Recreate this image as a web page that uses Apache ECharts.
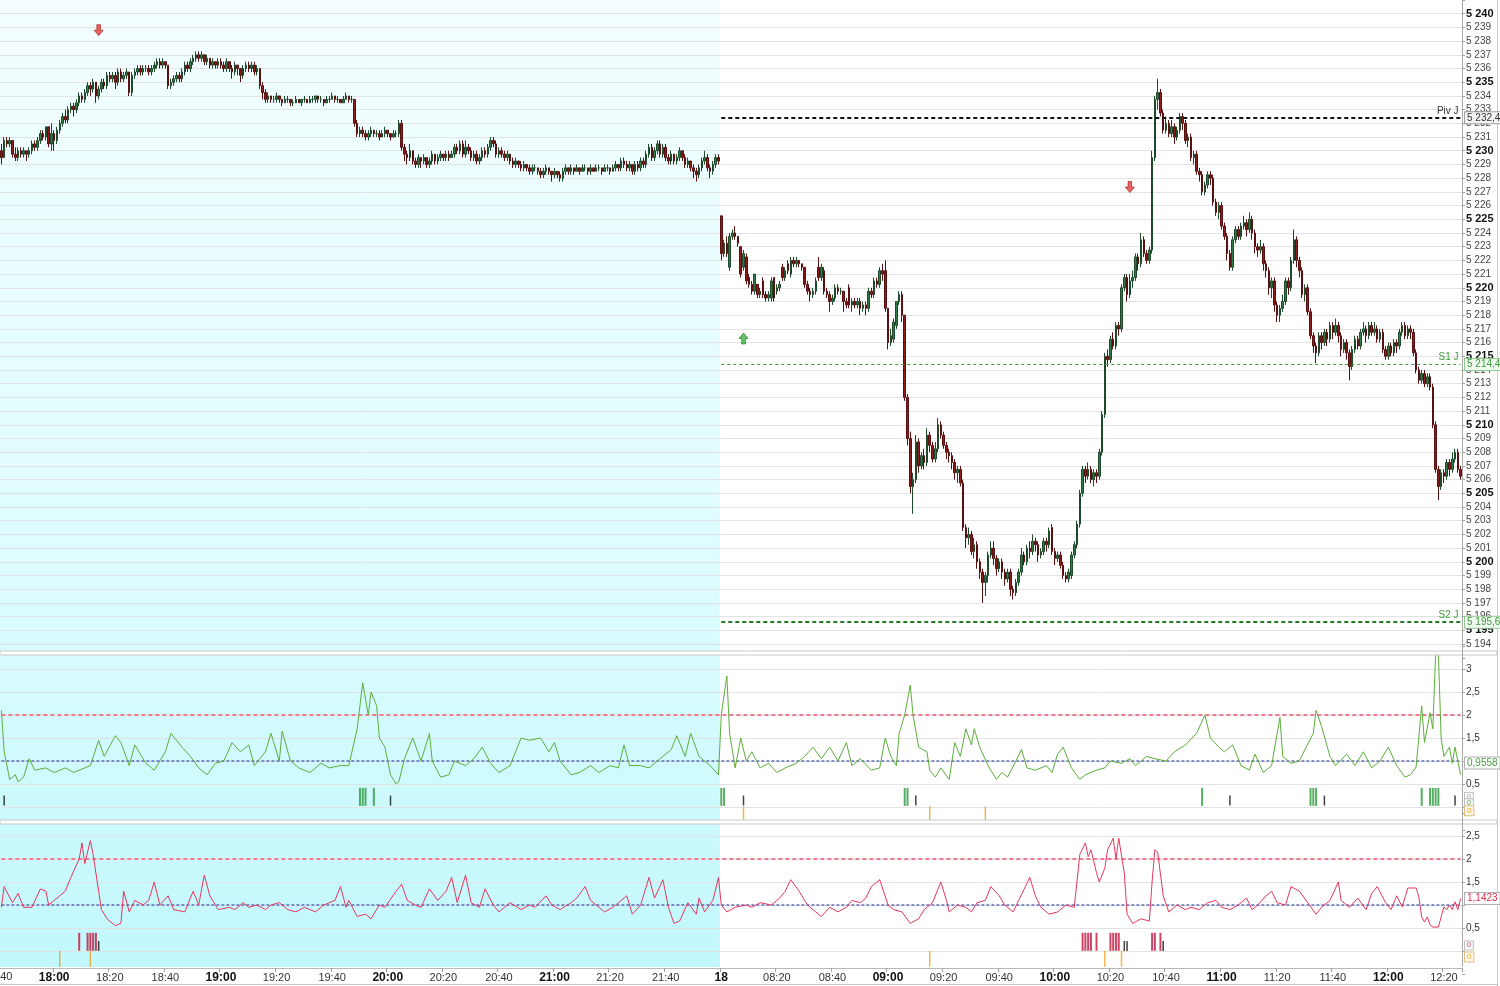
<!DOCTYPE html>
<html><head><meta charset="utf-8">
<script src="https://cdn.jsdelivr.net/npm/echarts/dist/echarts.min.js"></script>
<style>html,body{margin:0;padding:0;background:#fff}#c{width:1500px;height:986px}</style>
</head><body><div id="c"></div>
<script>
// ---------- DATA ----------
// sessions: start time and number of 1-minute bars
const sessionStarts = ['17:41', '08:00'];
const sessionLengths = [259, 267];
const dayLabel = '18';

// 1-minute bars: [open, close, low, high]
const bars = [
[5230,5229.5,5229,5230.5],[5229.5,5230.75,5229.5,5231],[5230.75,5230.5,5230.25,5231],[5230.5,5230.75,5230.25,5231],[5230.75,5229.75,5229.5,5230.75],[5229.75,5229.5,5229.25,5230.25],[5229.5,5230,5229.25,5230.25],[5230,5229.75,5229.5,5230.25],[5229.75,5230,5229.5,5230.25],[5230,5229.75,5229.25,5230],
[5229.75,5230,5229.5,5230.25],[5230,5230.5,5229.75,5230.75],[5230.5,5230.25,5230,5230.75],[5230.25,5230.75,5230,5231],[5230.75,5231.25,5230.5,5231.5],[5231.25,5231,5230.75,5231.5],[5231,5231.75,5230.75,5231.75],[5231.75,5230.5,5230.25,5231.75],[5230.5,5231.25,5230,5232],[5231.25,5230.75,5230,5231.5],
[5230.75,5231.5,5230.5,5231.75],[5231.5,5232,5231.25,5232.25],[5232,5232.5,5231.75,5232.75],[5232.5,5232.25,5232,5233],[5232.25,5233,5232,5233.25],[5233,5233.25,5232.75,5233.5],[5233.25,5233,5232.5,5233.5],[5233,5233.5,5232.75,5233.75],[5233.5,5234,5233.25,5234.25],[5234,5233.75,5233.5,5234.25],
[5233.75,5234.25,5233.5,5234.5],[5234.25,5234.75,5234,5235],[5234.75,5234.5,5234,5235],[5234.5,5235,5234.25,5235.25],[5235,5234,5233.5,5235],[5234,5234.5,5233.75,5234.75],[5234.5,5235,5234.25,5235.25],[5235,5234.75,5234.5,5235.25],[5234.75,5235.5,5234.5,5235.75],[5235.5,5235.25,5235,5235.75],
[5235.25,5235.5,5235,5235.75],[5235.5,5235,5234.5,5235.75],[5235,5235.75,5234.75,5236],[5235.75,5235.25,5235,5236],[5235.25,5235.5,5235,5235.75],[5235.5,5235.75,5235.25,5236],[5235.75,5234.25,5234,5235.75],[5234.25,5235.5,5234,5235.75],[5235.5,5235.75,5235.25,5236],[5235.75,5236,5235.5,5236.25],
[5236,5235.75,5235.5,5236.25],[5235.75,5236,5235.5,5236.25],[5236,5236,5235.75,5236.25],[5236,5235.75,5235.5,5236.25],[5235.75,5236,5235.5,5236.25],[5236,5236.25,5235.75,5236.5],[5236.25,5236.5,5236,5236.75],[5236.5,5236.25,5236,5236.75],[5236.25,5236.5,5236,5236.75],[5236.5,5236.25,5236,5236.5],
[5236.25,5234.75,5234.5,5236.25],[5234.75,5235,5234.5,5235.25],[5235,5235.25,5234.75,5235.5],[5235.25,5235.5,5235,5235.75],[5235.5,5235.25,5235,5235.75],[5235.25,5235.75,5235,5236],[5235.75,5236.25,5235.5,5236.5],[5236.25,5236,5235.75,5236.5],[5236,5236.5,5235.75,5236.75],[5236.5,5236.75,5236.25,5237],
[5236.75,5237,5236.5,5237.25],[5237,5236.75,5236.5,5237.25],[5236.75,5237,5236.5,5237.25],[5237,5236.5,5236.25,5237],[5236.5,5236.75,5236.25,5237],[5236.75,5236.25,5236,5236.75],[5236.25,5236.5,5236,5236.75],[5236.5,5236.25,5236,5236.5],[5236.25,5236.5,5236,5236.75],[5236.5,5236.25,5236,5236.75],
[5236.25,5236,5235.75,5236.5],[5236,5236.5,5235.75,5236.75],[5236.5,5236,5235.75,5236.5],[5236,5235.75,5235.25,5236.25],[5235.75,5236.25,5235.5,5236.5],[5236.25,5236,5235.5,5236.25],[5236,5235.5,5235,5236],[5235.5,5236,5235.25,5236.25],[5236,5236.25,5235.75,5236.5],[5236.25,5236,5235.75,5236.5],
[5236,5236.25,5235.75,5236.5],[5236.25,5235.75,5235.5,5236.5],[5235.75,5236,5235.5,5236.25],[5236,5234.75,5234.5,5236],[5234.75,5234.25,5233.75,5235],[5234.25,5233.75,5233.5,5234.5],[5233.75,5234,5233.5,5234.25],[5234,5233.75,5233.5,5234],[5233.75,5233.75,5233.5,5234],[5233.75,5234,5233.5,5234.25],
[5234,5233.75,5233.5,5234],[5233.75,5233.5,5233.25,5233.75],[5233.5,5233.75,5233.5,5234],[5233.75,5233.75,5233.5,5234],[5233.75,5233.5,5233.25,5233.75],[5233.5,5233.5,5233.25,5233.75],[5233.5,5233.75,5233.5,5234],[5233.75,5233.5,5233.5,5233.75],[5233.5,5233.75,5233.25,5233.75],[5233.75,5233.75,5233.5,5234],
[5233.75,5233.5,5233.5,5233.75],[5233.5,5233.75,5233.5,5234],[5233.75,5233.75,5233.5,5234],[5233.75,5234,5233.5,5234],[5234,5233.75,5233.5,5234],[5233.75,5233.75,5233.5,5234],[5233.75,5233.5,5233.25,5233.75],[5233.5,5233.75,5233.5,5234],[5233.75,5233.75,5233.5,5234],[5233.75,5234,5233.75,5234.25],
[5234,5233.75,5233.5,5234],[5233.75,5233.75,5233.5,5234],[5233.75,5233.5,5233.5,5233.75],[5233.5,5233.75,5233.5,5234],[5233.75,5234,5233.75,5234.25],[5234,5233.75,5233.5,5234],[5233.75,5233.75,5233.5,5234],[5233.75,5232,5231.75,5233.75],[5232,5231.25,5231,5232.25],[5231.25,5231.5,5231,5231.75],
[5231.5,5231.25,5231,5231.75],[5231.25,5231,5230.75,5231.5],[5231,5231.25,5230.75,5231.5],[5231.25,5231.5,5231,5231.75],[5231.5,5231.25,5231,5231.5],[5231.25,5231.25,5231,5231.5],[5231.25,5231,5230.75,5231.5],[5231,5231.25,5231,5231.5],[5231.25,5231.5,5231,5231.75],[5231.5,5231.25,5231,5231.5],
[5231.25,5231,5230.75,5231.25],[5231,5231.25,5231,5231.5],[5231.25,5231.25,5231,5231.5],[5231.25,5232,5231,5232.25],[5232,5230.25,5230,5232.25],[5230.25,5229.75,5229.25,5230.5],[5229.75,5229.5,5229,5230],[5229.5,5230,5229.25,5230.5],[5230,5229.25,5229,5230],[5229.25,5229,5228.75,5229.5],
[5229,5229.5,5228.75,5229.75],[5229.5,5229.25,5228.75,5229.5],[5229.25,5229.5,5229,5229.75],[5229.5,5229,5228.75,5229.5],[5229,5229.25,5228.75,5229.5],[5229.25,5229.75,5229,5230],[5229.75,5229.25,5229,5229.75],[5229.25,5229.5,5229,5229.75],[5229.5,5229.75,5229.25,5230],[5229.75,5229.5,5229.25,5229.75],
[5229.5,5229.75,5229.25,5230],[5229.75,5229.5,5229.25,5230],[5229.5,5229.75,5229.5,5230],[5229.75,5230.25,5229.5,5230.5],[5230.25,5230,5229.75,5230.5],[5230,5230.5,5229.75,5230.75],[5230.5,5229.75,5229.5,5230.75],[5229.75,5230.25,5229.5,5230.75],[5230.25,5230,5229.75,5230.5],[5230,5229.5,5229.25,5230.25],
[5229.5,5229.75,5229.25,5230],[5229.75,5229.25,5229,5230],[5229.25,5229.5,5229,5229.75],[5229.5,5230,5229.25,5230.25],[5230,5229.75,5229.5,5230.25],[5229.75,5230.25,5229.5,5230.5],[5230.25,5230.75,5230,5231],[5230.75,5230.5,5230.25,5231],[5230.5,5229.75,5229.5,5230.75],[5229.75,5230,5229.5,5230.25],
[5230,5229.75,5229.5,5230.25],[5229.75,5229.5,5229.25,5230],[5229.5,5229.75,5229.25,5230],[5229.75,5229.25,5229,5229.75],[5229.25,5229,5228.75,5229.5],[5229,5229.25,5228.75,5229.5],[5229.25,5229,5228.75,5229.25],[5229,5228.75,5228.5,5229.25],[5228.75,5229,5228.5,5229.25],[5229,5228.75,5228.5,5229],
[5228.75,5228.5,5228.25,5229],[5228.5,5228.75,5228.25,5229],[5228.75,5228.75,5228.5,5229],[5228.75,5228.5,5228.25,5228.75],[5228.5,5228.25,5228,5228.75],[5228.25,5228.5,5228,5228.75],[5228.5,5228.75,5228.25,5229],[5228.75,5228.5,5228.25,5228.75],[5228.5,5228.25,5227.75,5228.5],[5228.25,5228.5,5228,5228.75],
[5228.5,5228.25,5228,5228.5],[5228.25,5228,5227.75,5228.5],[5228,5228.5,5227.75,5228.75],[5228.5,5228.75,5228.25,5229],[5228.75,5228.5,5228.25,5228.75],[5228.5,5228.75,5228.25,5229],[5228.75,5228.5,5228.25,5228.75],[5228.5,5228.75,5228.5,5229],[5228.75,5228.5,5228.25,5228.75],[5228.5,5228.75,5228.5,5229],
[5228.75,5228.75,5228.5,5229],[5228.75,5228.5,5228.25,5228.75],[5228.5,5228.75,5228.25,5229],[5228.75,5228.5,5228.5,5228.75],[5228.5,5228.75,5228.5,5229],[5228.75,5228.75,5228.5,5229],[5228.75,5228.5,5228.25,5228.75],[5228.5,5228.75,5228.5,5229],[5228.75,5228.75,5228.5,5229],[5228.75,5228.5,5228.25,5228.75],
[5228.5,5228.75,5228.5,5229],[5228.75,5229,5228.5,5229.25],[5229,5228.75,5228.5,5229],[5228.75,5229.25,5228.5,5229.5],[5229.25,5229,5228.75,5229.5],[5229,5228.75,5228.5,5229.25],[5228.75,5229,5228.5,5229.25],[5229,5228.5,5228.25,5229],[5228.5,5229,5228.25,5229.25],[5229,5228.75,5228.5,5229.25],
[5228.75,5229.25,5228.5,5229.5],[5229.25,5229,5228.75,5229.5],[5229,5229.75,5228.75,5230],[5229.75,5230.25,5229.5,5230.5],[5230.25,5229.5,5229.25,5230.5],[5229.5,5230,5229.25,5230.25],[5230,5230.5,5229.75,5230.75],[5230.5,5229.75,5229.5,5230.75],[5229.75,5230.25,5229.5,5230.5],[5230.25,5229.5,5229.25,5230.5],
[5229.5,5229.25,5229,5229.75],[5229.25,5229.75,5229,5230],[5229.75,5229.25,5229,5229.75],[5229.25,5229.5,5229,5229.75],[5229.5,5230,5229.25,5230.25],[5230,5229.5,5229.25,5230],[5229.5,5229,5228.75,5229.75],[5229,5229.25,5228.75,5229.5],[5229.25,5228.75,5228.5,5229.25],[5228.75,5228.5,5228,5229],
[5228.5,5228.25,5227.75,5228.75],[5228.25,5228.75,5228,5229],[5228.75,5229.25,5228.5,5229.5],[5229.25,5229.5,5229,5230],[5229.5,5228.75,5228.5,5229.75],[5228.75,5228.5,5228,5229],[5228.5,5229,5228.25,5229.25],[5229,5229.5,5228.75,5229.75],[5229.5,5229.25,5229,5229.75],
[5225.25,5222.5,5222,5225.25],[5222.5,5223.25,5222.25,5223.5],[5223.25,5222.5,5222.25,5223.75],[5221.5,5223.75,5221.25,5224],[5223.75,5224,5223.5,5224.25],[5224,5223.75,5223.5,5224.5],[5223.75,5223.25,5223,5223.75],[5223,5221,5220.75,5223],[5221.5,5222.5,5221.25,5222.75],[5222.25,5220.5,5220.25,5222.5],
[5220.75,5220.25,5220,5221],[5220.25,5219.75,5219.5,5220.5],[5219.75,5221,5219.5,5221],[5220.25,5219.5,5219.25,5220.25],[5219.5,5219.75,5219.25,5220],[5220.5,5219.5,5219.25,5220.75],[5219.5,5219.25,5219,5219.75],[5219.25,5219.5,5219,5219.75],[5219.25,5220.5,5219,5220.75],[5220.75,5219.25,5219,5220.75],
[5219.75,5220,5219.5,5220.25],[5220,5220.25,5219.75,5220.5],[5221.5,5220.75,5220.5,5221.75],[5220.75,5221.25,5220.5,5221.5],[5221.75,5221.25,5221,5222],[5221,5222,5220.75,5222.25],[5222,5221.75,5221.5,5222.25],[5221.75,5222,5221.5,5222.25],[5222,5221.75,5221.5,5222],[5221.75,5221.5,5221.25,5221.75],
[5221.5,5220.25,5220,5221.5],[5220.25,5219.75,5219.5,5220.5],[5219.75,5219.5,5219,5220],[5219.5,5219.75,5219.25,5220],[5219.75,5220.5,5219.5,5220.75],[5221.5,5220.75,5220.5,5222.25],[5220.75,5221.5,5220.5,5221.75],[5221.25,5219.75,5219.5,5221.5],[5219.75,5219.5,5219.25,5220],[5219.5,5219,5218.25,5219.75],
[5219,5219.25,5218.75,5219.5],[5219.25,5220,5219,5220.25],[5220,5219.75,5219.5,5220.25],[5219.75,5219.75,5219.5,5220],[5219.75,5219,5218.25,5219.75],[5219,5218.75,5218.5,5219.25],[5220,5218.75,5218.5,5220.25],[5218.75,5219,5218.25,5219.25],[5219,5218.75,5218.5,5219.25],[5218.75,5219,5218.5,5219.25],
[5219,5218.5,5218,5219.25],[5218.5,5218.75,5218.25,5219],[5218.75,5218.5,5218,5219],[5218.5,5219.75,5218.25,5220],[5219.75,5219.5,5219.25,5220],[5219.5,5220.5,5219.25,5220.75],[5220.5,5220.25,5220,5220.75],[5220.25,5221.25,5220,5221.5],[5221.25,5221,5220.5,5221.75],[5221.25,5218.5,5218.25,5222],
[5218.5,5216,5215.5,5218.5],[5216,5216.5,5215.75,5217],[5216.25,5217.5,5216,5217.75],[5217.25,5219,5217,5219],[5219,5219.5,5218.75,5219.75],[5219.5,5218,5217.5,5219.75],[5218,5212,5211.75,5218],[5212,5209,5208.5,5212.25],[5209,5205.5,5205,5209.5],[5205.5,5206,5203.5,5206.5],
[5206,5208.75,5205.75,5209.25],[5208.75,5207,5206.5,5209],[5207,5207.75,5206.75,5208],[5207.75,5207.25,5206.75,5208.25],[5207.25,5209.25,5207,5209.75],[5209.25,5208.5,5208,5209.5],[5208.5,5207.5,5207.25,5208.75],[5207.5,5208.25,5207.25,5208.75],[5208.25,5210,5208,5210.5],[5210,5209.25,5209,5210.25],
[5209.25,5208.5,5208.25,5209.5],[5208.5,5208,5207.5,5208.75],[5208,5207.75,5207.25,5208.25],[5207.75,5207.25,5206.75,5208],[5207.25,5206.5,5206,5207.5],[5206.5,5206.75,5205.75,5207],[5206.75,5205.75,5205.5,5207],[5205.75,5202.5,5202.25,5206],[5202.5,5201.75,5201,5202.75],[5201.75,5202,5201.25,5202.5],
[5202,5200.75,5200.5,5202.25],[5200.75,5201.25,5200.25,5201.75],[5201.25,5200,5199.5,5201.5],[5200,5199.25,5198.75,5200.25],[5199.25,5198.5,5197,5199.5],[5198.5,5199,5197.5,5199.25],[5199,5200.5,5198.5,5200.75],[5200.5,5201,5200.25,5201.5],[5201,5200.25,5199.75,5201.5],[5200.25,5199.5,5199,5200.5],
[5199.5,5200,5199.25,5200.25],[5200,5199.25,5198.75,5200.25],[5199.25,5198.75,5198.25,5199.5],[5198.75,5199.25,5198.5,5199.5],[5199.25,5198,5197.5,5199.5],[5198,5197.75,5197.25,5198.25],[5197.75,5198.5,5197.5,5198.75],[5198.5,5199.25,5198.25,5199.5],[5199.25,5200.5,5199,5201],[5200.5,5200,5199.75,5200.75],
[5200,5201,5199.75,5201.25],[5201,5200.75,5200.25,5201.5],[5200.75,5201.5,5200.5,5202],[5201.5,5201.25,5200.75,5201.75],[5201.25,5200.5,5200,5201.5],[5200.5,5200.75,5200.25,5201],[5200.75,5201.5,5200.5,5201.75],[5201.5,5201.25,5200.75,5201.75],[5201.25,5202.25,5201,5202.5],[5202.5,5200.75,5200.5,5202.75],
[5200.75,5200.25,5199.75,5201],[5200.25,5200.5,5200,5200.75],[5200.5,5199.75,5199.5,5200.75],[5199.75,5199,5198.75,5200],[5199,5198.75,5198.5,5199.25],[5198.75,5199.25,5198.5,5199.5],[5199,5200.5,5198.75,5200.75],[5200.5,5201.25,5200.25,5201.5],[5201.25,5202.75,5201,5203],[5202.75,5205,5202.5,5205.25],
[5205,5206.75,5204.75,5207],[5206.75,5206.25,5205.75,5207],[5206.25,5206.75,5206,5207.25],[5206.75,5206,5205.75,5207],[5206,5206.5,5205.5,5206.75],[5206.5,5206.25,5205.75,5206.75],[5206.25,5208,5206,5208.25],[5208,5210.75,5207.75,5211],[5210.75,5215,5210.5,5215.25],[5215,5214.75,5214.25,5215.5],
[5214.75,5216.25,5214.5,5216.5],[5216.25,5215.75,5215.5,5216.75],[5215.75,5217.25,5215.5,5217.5],[5217.25,5217,5216.5,5217.5],[5217,5220,5216.75,5220.25],[5220,5220.75,5219.75,5221],[5220.75,5219.5,5219,5221],[5219.5,5220.5,5219.25,5221],[5220.5,5220.75,5220,5221.25],[5220.75,5222.25,5220.5,5222.5],
[5222.25,5221.75,5221.25,5222.5],[5221.75,5223.5,5221.5,5224],[5223.5,5222.5,5222.25,5223.75],[5222.5,5222,5221.75,5222.75],[5222,5222.75,5221.75,5223],[5222.75,5229.5,5222.5,5230],[5229.5,5233.75,5229.25,5234],[5233.75,5234.25,5233,5235.25],[5234.25,5232.75,5232.5,5234.5],[5232.75,5231.5,5231.25,5233],
[5231.5,5232,5231.25,5232.5],[5232,5231.25,5231,5232.25],[5231.25,5231.75,5231,5232.25],[5231.75,5231,5230.5,5232],[5231,5231.5,5230.75,5231.75],[5231.5,5232.5,5231.25,5232.75],[5232.5,5232,5231.5,5232.75],[5232,5230.75,5230.5,5232.25],[5230.75,5231,5230.25,5231.25],[5231,5229.5,5229.25,5231.25],
[5229.5,5229.75,5229,5230],[5229.75,5228.5,5228.25,5230],[5228.5,5228.25,5227.75,5228.75],[5228.25,5227,5226.75,5228.5],[5227,5227.5,5226.75,5227.75],[5227.5,5228.25,5227.25,5228.5],[5228.25,5228,5227.5,5228.5],[5228,5226.25,5226,5228.25],[5226.25,5225.5,5225.25,5226.5],[5225.5,5226,5225,5226.25],
[5226,5224.5,5224.25,5226.25],[5224.5,5223.75,5223.5,5224.75],[5223.75,5222.5,5222,5224],[5222.5,5221.5,5221.25,5222.75],[5221.5,5223.5,5221.25,5223.75],[5223.5,5224.25,5223.25,5224.5],[5224.25,5223.75,5223.5,5224.5],[5223.75,5224.5,5223.5,5224.75],[5224.5,5224.75,5224.25,5225.25],[5224.75,5224.25,5223.75,5225],
[5224.25,5225,5224,5225.5],[5225,5224,5223.5,5225.25],[5224,5223,5222.5,5224.25],[5223,5222.75,5222.25,5223.25],[5222.75,5223,5222.5,5223.5],[5223,5221.75,5221.25,5223.25],[5221.75,5221.25,5220.75,5222],[5221.25,5220,5219.5,5221.5],[5220,5220.5,5219.25,5220.75],[5220.5,5218.75,5218.25,5220.75],
[5218.75,5218,5217.5,5219],[5218,5218.5,5217.5,5218.75],[5218.5,5219,5218.25,5219.5],[5219,5220.5,5218.75,5220.75],[5220.5,5220,5219.5,5220.75],[5220,5222,5219.75,5222.25],[5222,5223.5,5221.75,5224.25],[5223.5,5222,5221.5,5223.75],[5222,5221.25,5220.75,5222.25],[5221.25,5219.5,5219.25,5221.5],
[5219.5,5220,5219,5220.25],[5220,5218.25,5218,5220.25],[5218.25,5216.5,5216.25,5218.5],[5216.5,5215.75,5215.25,5216.75],[5215.75,5215.25,5214.5,5216],[5215.25,5216.5,5215,5216.75],[5216.5,5216,5215.5,5216.75],[5216,5216.75,5215.75,5217],[5216.75,5216.25,5215.75,5217],[5216.25,5217.25,5216,5217.5],
[5217.25,5216.75,5216.25,5217.5],[5216.75,5217.25,5216.5,5217.75],[5217.25,5216.5,5216,5217.5],[5216.5,5215.5,5215,5216.75],[5215.5,5216,5215.25,5216.25],[5216,5215.25,5214.75,5216.25],[5215.25,5214.25,5213.25,5215.5],[5214.25,5215.5,5214,5215.75],[5215.5,5216.25,5215.25,5216.5],[5216.25,5215.75,5215.5,5216.5],
[5215.75,5216.75,5215.5,5217],[5216.75,5217,5216.5,5217.5],[5217,5216.5,5216,5217.25],[5216.5,5217.25,5216.25,5217.5],[5217.25,5216.75,5216.5,5217.5],[5216.75,5217,5216.5,5217.5],[5217,5216.25,5216,5217.25],[5216.25,5216.75,5216,5217],[5216.75,5215.5,5215.25,5217],[5215.5,5215,5214.75,5215.75],
[5215,5215.75,5214.75,5216],[5215.75,5215.25,5215,5216],[5215.25,5216,5215,5216.25],[5216,5215.75,5215.25,5216.25],[5215.75,5216.75,5215.5,5217],[5216.75,5217.25,5216.5,5217.5],[5217.25,5216.5,5216.25,5217.5],[5216.5,5217,5216.25,5217.25],[5217,5216.75,5216.25,5217.25],[5216.75,5215.25,5215,5217],
[5215.25,5214,5213.75,5215.5],[5214,5213.25,5213,5214.25],[5213.25,5213.75,5213,5214],[5213.75,5213,5212.75,5214],[5213,5213.5,5212.75,5213.75],[5213.5,5212.75,5212.5,5213.75],[5212.75,5210,5209.75,5213],[5210,5206.75,5206.5,5210.25],[5206.75,5205.5,5204.5,5207],[5205.5,5206.5,5205.25,5206.75],
[5206.5,5206.25,5205.75,5206.75],[5206.25,5207.25,5206,5207.5],[5207.25,5206.75,5206.25,5207.5],[5206.75,5207.5,5206.5,5208],[5207.5,5208,5207.25,5208.25],[5208,5206.75,5206.5,5208.25],[5206.75,5206.25,5206,5207]
];

// pivot levels of the day
const levelNames = ['Piv J', 'S1 J', 'S2 J'];
const levelValues = [5232.4, 5214.4, 5195.6];

// signal arrows on the price panel
const arrowTimes = ['18:16', '08:08', '10:27'];
const arrowPrices = [5238.8, 5216.3, 5227.35];
const arrowDirs = ['down', 'up', 'down'];

// oscillator thresholds
const upperThreshold = 2;
const midThreshold = 1;

// oscillator A (green), [bar index, value]
const oscA = [[0,2.1],[1,1.2],[3,0.6],[5,0.7],[6,0.55],[8,0.65],[10,1.05],[12,0.8],[16,0.85],[19,0.75],[23,0.85],[26,0.75],[32,0.9],[35,1.45],[37,1.1],[41,1.55],[43,1.4],[46,0.9],[48,1.35],[52,0.95],[55,0.8],[59,1.2],[61,1.6],[65,1.3],[68,1.1],[71,0.85],[74,0.7],[77,0.95],[80,1.0],[83,1.4],[86,1.2],[89,1.35],[91,0.9],[95,1.2],[97,1.6],[100,1.0],[101,1.65],[104,1.0],[107,0.85],[111,0.75],[115,0.95],[118,0.85],[122,0.9],[125,0.9],[128,1.7],[130,2.7],[132,2.0],[133,2.5],[135,2.2],[136,1.5],[138,1.3],[140,0.7],[142,0.5],[143,0.55],[145,1.05],[148,1.5],[151,1.0],[154,1.6],[155,1.0],[158,0.65],[161,0.7],[163,1.0],[167,0.9],[170,1.05],[173,1.3],[176,0.95],[179,0.75],[183,0.9],[187,1.5],[190,1.45],[194,1.5],[197,1.2],[199,1.4],[201,1.0],[205,0.7],[208,0.75],[212,0.9],[215,0.75],[219,0.9],[222,0.85],[224,1.35],[226,0.9],[230,0.9],[233,0.85],[237,1.05],[241,1.25],[243,1.55],[246,1.1],[248,1.6],[251,1.1],[255,0.9],[258,0.7],
[259,2.0],[261,2.85],[262,1.6],[264,0.85],[266,1.5],[268,1.0],[270,1.2],[273,0.85],[276,0.95],[279,0.75],[282,0.85],[286,0.95],[289,1.1],[292,1.3],[295,1.05],[298,1.3],[301,1.0],[304,1.4],[306,0.9],[309,1.05],[313,0.8],[316,0.85],[318,1.5],[320,1.1],[322,0.9],[323,1.6],[325,2.0],[327,2.65],[328,2.0],[330,1.3],[333,1.2],[334,0.8],[336,0.65],[338,0.85],[341,0.6],[343,1.4],[345,1.1],[347,1.7],[349,1.35],[350,1.7],[352,1.3],[355,0.9],[358,0.6],[360,0.75],[362,0.65],[365,1.0],[367,1.25],[369,0.85],[372,0.8],[376,0.9],[378,0.75],[380,1.15],[382,1.3],[385,0.85],[388,0.6],[390,0.7],[394,0.8],[397,0.85],[399,1.0],[403,0.95],[406,1.05],[408,0.9],[412,1.1],[415,1.05],[419,1.0],[422,1.2],[426,1.35],[430,1.6],[433,2.0],[435,1.5],[438,1.3],[440,1.2],[443,1.35],[446,0.9],[449,0.8],[451,1.15],[454,0.75],[457,0.9],[460,1.95],[461,1.1],[464,0.95],[467,1.0],[469,1.25],[472,1.6],[473,2.1],[475,1.75],[478,1.1],[480,0.9],[484,1.15],[487,0.9],[490,1.2],[493,0.85],[496,1.0],[499,1.3],[502,0.9],[505,0.65],[507,0.7],[509,0.87],[511,2.2],[512,1.4],[514,2.05],[515,1.7],[516,3.32],[517,3.32],[518,1.5],[519,1.1],[521,1.3],[522,0.95],[523,1.3],[525,0.7]];

// oscillator B (red), [bar index, value]
const oscB = [[0,0.95],[1,1.4],[4,1.05],[6,1.25],[8,0.95],[11,0.95],[14,1.35],[16,1.3],[17,1.0],[20,1.15],[23,1.3],[25,1.6],[28,2.0],[29,2.35],[30,1.9],[32,2.4],[33,2.1],[35,1.3],[36,0.9],[38,0.7],[41,0.55],[43,0.6],[44,1.3],[46,0.85],[48,1.1],[51,1.0],[53,1.1],[55,1.5],[57,1.0],[60,1.2],[62,0.9],[66,0.85],[69,1.3],[71,1.0],[73,1.65],[75,1.2],[78,0.9],[82,0.95],[84,0.9],[87,1.05],[89,0.95],[92,1.0],[95,0.9],[97,1.0],[100,1.05],[103,0.9],[106,0.85],[109,0.95],[113,0.85],[116,1.0],[120,1.1],[122,1.4],[124,0.95],[125,1.1],[128,0.75],[131,0.8],[133,0.7],[136,1.0],[138,0.95],[142,1.3],[144,1.45],[146,1.1],[149,1.0],[151,0.95],[154,1.35],[157,1.1],[160,1.3],[162,1.6],[164,1.05],[167,1.65],[169,1.05],[172,0.95],[174,1.35],[177,1.0],[179,0.85],[183,1.05],[187,0.9],[190,1.0],[192,0.95],[196,1.2],[198,1.0],[201,0.9],[205,1.05],[207,1.15],[210,1.4],[212,1.1],[215,0.95],[217,0.85],[220,0.95],[223,1.1],[225,1.2],[227,0.8],[230,1.0],[233,1.6],[235,1.15],[238,1.55],[240,0.95],[242,0.6],[244,0.65],[247,1.05],[250,0.8],[251,1.15],[253,0.85],[256,1.1],[258,1.6],
[259,1.0],[261,0.85],[264,0.95],[268,1.0],[270,0.95],[273,1.05],[277,1.0],[280,1.15],[282,1.3],[284,1.55],[287,1.3],[290,1.0],[293,0.85],[295,0.75],[298,0.95],[301,0.85],[304,0.95],[306,1.1],[309,1.05],[311,1.15],[313,1.4],[316,1.55],[319,1.0],[321,0.9],[324,0.85],[327,0.6],[330,0.7],[332,0.9],[335,1.05],[338,1.5],[340,1.1],[341,0.85],[344,1.0],[347,0.95],[349,0.85],[351,1.05],[354,1.1],[356,1.4],[359,1.2],[361,1.0],[364,0.85],[366,1.1],[370,1.6],[372,1.2],[374,0.95],[377,0.8],[380,0.85],[383,1.0],[386,0.95],[388,2.1],[390,2.35],[391,2.05],[392,2.2],[394,1.7],[395,1.5],[397,1.8],[398,2.2],[400,2.45],[401,2.0],[402,2.45],[404,1.7],[405,0.8],[407,0.6],[410,0.7],[413,0.65],[414,1.5],[415,2.2],[416,2.15],[418,1.2],[420,0.85],[423,1.0],[426,0.9],[428,0.95],[431,0.9],[434,1.05],[437,1.1],[439,0.95],[442,0.9],[445,1.0],[448,1.15],[450,0.9],[452,1.0],[455,1.2],[457,1.3],[459,1.05],[462,1.0],[464,1.4],[467,1.3],[470,1.05],[473,0.8],[475,0.95],[478,1.1],[481,1.5],[482,1.1],[485,0.95],[488,1.15],[491,0.9],[493,1.25],[495,1.4],[498,1.05],[500,0.9],[502,1.2],[504,0.96],[506,1.37],[509,1.37],[510,1.17],[511,0.74],[512,0.63],[513,0.74],[514,0.57],[515,0.52],[517,0.52],[518,0.74],[519,0.96],[520,0.9],[521,1.0],[522,0.9],[523,1.07],[524,0.9],[525,1.14]];

const oscALast = 0.9558;
const oscBLast = 1.1423;

// signal strips (bar indices)
const sigAGreen = [129,130,131,134,259,260,325,326,432,471,472,473,511,514,515,516,517];
const sigABlack = [1,140,267,329,442,476,523];
const sigAOrange = [267,334,354];
const sigBRed = [28,31,32,33,34,389,390,391,392,394,399,400,401,402,414,415,417];
const sigBBlack = [35,404,405,418];
const sigBOrange = [21,32,334,397,403];

// ---------- BUILD ----------
function buildCats() {
  const out = [];
  sessionStarts.forEach((s, k) => {
    let [h, m] = s.split(':').map(Number);
    for (let i = 0; i < sessionLengths[k]; i++) {
      out.push(String(h).padStart(2, '0') + ':' + String(m).padStart(2, '0'));
      m++; if (m === 60) { m = 0; h++; }
    }
  });
  return out;
}
const cats = buildCats();
const sess2Start = sessionStarts[1];
const lastCat = cats[cats.length - 1];

function fmtNum(v, d) {
  let s = v.toFixed(d).replace('.', ',');
  const parts = s.split(',');
  if (parts[0].length === 4) parts[0] = parts[0][0] + ' ' + parts[0].slice(1);
  return parts.join(',');
}

const FONT = '"Liberation Sans", Arial, Helvetica, sans-serif';
const W = 1500, AXIS_W = 38, PLOT_R = W - AXIS_W;
const P0_TOP = -2.76, P0_H = 660.52;
const P1_TOP = 646, P1_H = 184;
const P2_TOP = 813, P2_H = 161;
const XAX_TOP = 967;

const chart = echarts.init(document.getElementById('c'), null, { renderer: 'canvas' });

const labelIntervalFn = (i, v) => /:(00|20|40)$/.test(v);
const gridBase = { left: 0, right: AXIS_W };

const xAxes = [0, 1, 2, 3].map(k => ({
  type: 'category', gridIndex: k, data: cats, boundaryGap: true,
  show: k === 3,
  axisLine: { show: k === 3, lineStyle: { color: '#b8b8b8' } },
  axisTick: { show: k === 3, length: 4, interval: labelIntervalFn, lineStyle: { color: '#a0a0a0' } },
  axisLabel: {
    show: k === 3, interval: labelIntervalFn, margin: 4, color: '#222', fontFamily: FONT,
    formatter: v => v === sess2Start ? '{b|' + dayLabel + '}' : (v.endsWith(':00') ? '{b|' + v + '}' : '{n|' + v + '}'),
    rich: { b: { fontWeight: 'bold', fontSize: 12, color: '#111', fontFamily: FONT }, n: { fontSize: 11, color: '#333', fontFamily: FONT } }
  },
  splitLine: { show: false }
}));

const panelAxis = (k, min, max, shown) => ({
  type: 'value', gridIndex: k, position: 'right', min, max, interval: 0.5,
  axisLine: { show: false },
  axisTick: { show: true, length: 3, lineStyle: { color: '#a0a0a0' } },
  axisLabel: { margin: 4, fontSize: 10, color: '#333', fontFamily: FONT,
    formatter: v => shown.includes(v) ? String(v).replace('.', ',') : '' },
  splitLine: { show: true, showMinLine: false, showMaxLine: false, lineStyle: { color: '#e2e2e2', width: 1 } }
});

const yAxes = [
  {
    type: 'value', gridIndex: 0, position: 'right', min: 5193, max: 5241, interval: 1,
    axisLine: { show: false },
    axisTick: { show: true, length: 3, lineStyle: { color: '#a0a0a0' } },
    axisLabel: {
      margin: 4, fontFamily: FONT,
      formatter: v => {
        if (v < 5194 || v > 5240) return '';
        const s = '5 ' + String(v).slice(1);
        return v % 5 === 0 ? '{b|' + s + '}' : '{n|' + s + '}';
      },
      rich: { b: { fontWeight: 'bold', fontSize: 11, color: '#111', fontFamily: FONT }, n: { fontSize: 10, color: '#444', fontFamily: FONT } }
    },
    splitLine: { show: true, showMinLine: false, showMaxLine: false, lineStyle: { color: '#e3e3e3', width: 1 } }
  },
  panelAxis(1, -0.5, 3.5, [0.5, 1.5, 2, 2.5, 3]),
  panelAxis(2, -0.5, 3.0, [0.5, 1.5, 2, 2.5]),
  { type: 'value', gridIndex: 3, show: false }
];

const levelStyles = [
  { color: '#111', width: 2, type: [4, 3] },
  { color: '#3aa03a', width: 1, type: [3, 3] },
  { color: '#237a23', width: 2, type: [4, 3] }
];
const levelLabelColors = ['#333', '#3a9a3a', '#3a9a3a'];

const DOWN_ARROW = 'path://M3,0H7V6H10L5,12L0,6H3Z';
const UP_ARROW = 'path://M5,0L10,6H7V12H3V6H0Z';

// horizontal dashed threshold drawn as a two-point line series across the panel
const thresholdSeries = (xi, yi, value, style) => ({
  type: 'line', xAxisIndex: xi, yAxisIndex: yi, silent: true, showSymbol: false, z: 3,
  data: [[cats[0], value], [lastCat, value]],
  lineStyle: style
});

const strip = (data, xi, yi, level, size, color) => ({
  type: 'scatter', xAxisIndex: xi, yAxisIndex: yi, symbol: 'rect', symbolSize: size,
  silent: true, z: 3,
  itemStyle: { color },
  data: data.map(i => [i, level])
});

const RED_DASH = { color: '#f27a8c', width: 2, type: [4, 3] };
const BLUE_DASH = { color: '#1a2a9c', width: 1, type: [3, 2] };

const option = {
  animation: false,
  backgroundColor: '#fff',
  textStyle: { fontFamily: FONT },
  grid: [
    { ...gridBase, top: P0_TOP, height: P0_H },
    { ...gridBase, top: P1_TOP, height: P1_H },
    { ...gridBase, top: P2_TOP, height: P2_H },
    { ...gridBase, top: XAX_TOP, height: 1 }
  ],
  xAxis: xAxes,
  yAxis: yAxes,
  series: [
    {
      type: 'candlestick', xAxisIndex: 0, yAxisIndex: 0, data: bars, barWidth: 2,
      itemStyle: { color: '#2f7d46', color0: '#8f1c1c', borderColor: '#1d4a2a', borderColor0: '#5a1010', borderWidth: 1 },
      markLine: {
        symbol: 'none', silent: true,
        data: levelValues.map((v, k) => [
          { coord: [sess2Start, v], lineStyle: levelStyles[k],
            label: { show: true, position: 'insideEndTop', formatter: levelNames[k], color: levelLabelColors[k], fontSize: 10, fontFamily: FONT, distance: [2, 2] } },
          { coord: [lastCat, v] }
        ])
      }
    },
    {
      type: 'scatter', xAxisIndex: 0, yAxisIndex: 0, silent: true, z: 5,
      data: arrowTimes.map((t, k) => ({
        value: [t, arrowPrices[k]],
        symbol: arrowDirs[k] === 'down' ? DOWN_ARROW : UP_ARROW,
        symbolSize: [9, 11],
        itemStyle: arrowDirs[k] === 'down'
          ? { color: '#e63c3c', borderColor: '#a31616', borderWidth: 0.8 }
          : { color: '#3cb83c', borderColor: '#1c6e1c', borderWidth: 0.8 }
      }))
    },
    thresholdSeries(1, 1, upperThreshold, RED_DASH),
    thresholdSeries(1, 1, midThreshold, BLUE_DASH),
    {
      type: 'line', xAxisIndex: 1, yAxisIndex: 1, data: oscA, showSymbol: false, silent: true, z: 4,
      lineStyle: { color: '#5cae3a', width: 1 }
    },
    strip(sigAGreen, 1, 1, 0.22, [2, 18], '#2a9a3c'),
    strip(sigABlack, 1, 1, 0.14, [1.5, 10], '#111'),
    strip(sigAOrange, 1, 1, -0.14, [1.5, 14], '#f0a020'),
    thresholdSeries(2, 2, upperThreshold, RED_DASH),
    thresholdSeries(2, 2, midThreshold, BLUE_DASH),
    {
      type: 'line', xAxisIndex: 2, yAxisIndex: 2, data: oscB, showSymbol: false, silent: true, z: 4,
      lineStyle: { color: '#e8365c', width: 1 }
    },
    strip(sigBRed, 2, 2, 0.2, [2, 18], '#c4143c'),
    strip(sigBBlack, 2, 2, 0.11, [1.5, 10], '#111'),
    strip(sigBOrange, 2, 2, -0.17, [1.5, 16], '#f0a020')
  ]
};

chart.setOption(option);

// ---------- decorations positioned through the axes ----------
const px = (g, x, y) => chart.convertToPixel({ gridIndex: g }, [x, y]);
const band = px(0, 1, 5200)[0] - px(0, 0, 5200)[0];
const xSplit = (px(0, sessionLengths[0] - 1, 5200)[0] + px(0, sessionLengths[0], 5200)[0]) / 2;

const tag = (g, v, text, fill, border, bg, size) => ({
  type: 'text', x: PLOT_R + 3, y: px(g, 0, v)[1], z: 60, silent: true,
  style: { text, fill, font: (size || 10) + 'px ' + FONT, verticalAlign: 'middle', align: 'left',
    backgroundColor: bg, borderColor: border, borderWidth: 1, padding: [1, 2, 0, 2] }
});

const grad = new echarts.graphic.LinearGradient(0, 0, 0, 1, [
  { offset: 0, color: '#f4feff' }, { offset: 0.6, color: '#dcfcff' }, { offset: 1, color: '#c2f8fc' }
]);

const elements = [
  { type: 'rect', z: -10, silent: true, shape: { x: 0, y: 0, width: xSplit, height: XAX_TOP }, style: { fill: grad } },
  { type: 'rect', z: 50, silent: true, shape: { x: 0, y: 651, width: W - 3, height: 4 }, style: { fill: '#fff', stroke: '#c9c9c9', lineWidth: 1 } },
  { type: 'rect', z: 50, silent: true, shape: { x: 0, y: 820, width: W - 3, height: 4 }, style: { fill: '#fff', stroke: '#c9c9c9', lineWidth: 1 } },
  { type: 'line', z: 51, silent: true, shape: { x1: PLOT_R + 0.5, y1: 0, x2: PLOT_R + 0.5, y2: XAX_TOP }, style: { stroke: '#a8a8a8', lineWidth: 1 } },
  { type: 'line', z: 51, silent: true, shape: { x1: W - 2.5, y1: 0, x2: W - 2.5, y2: 986 }, style: { stroke: '#c9c9c9', lineWidth: 1 } },
  { type: 'line', z: 51, silent: true, shape: { x1: 0, y1: 984.5, x2: W - 2, y2: 984.5 }, style: { stroke: '#c9c9c9', lineWidth: 1 } },
  { type: 'text', z: 51, silent: true, x: px(3, 0, 0)[0] - band, y: XAX_TOP + 10,
    style: { text: sessionStarts[0].slice(0, 3) + '40', fill: '#333', font: '11px ' + FONT, align: 'center', verticalAlign: 'middle' } },
  tag(0, levelValues[0], fmtNum(levelValues[0], 1), '#333', '#a0a0a0', '#f4f4f4'),
  tag(0, levelValues[1], fmtNum(levelValues[1], 1), '#3a9a3a', '#8fc98f', '#f2fbf2'),
  tag(0, levelValues[2], fmtNum(levelValues[2], 1), '#3a9a3a', '#8fc98f', '#f2fbf2'),
  tag(1, oscALast, String(oscALast).replace('.', ','), '#4aa040', '#b0b0b0', '#fff'),
  tag(2, oscBLast, String(oscBLast).replace('.', ','), '#e0304f', '#b0b0b0', '#fff'),
  tag(1, 0.22, '0', '#999', '#c0c0c0', '#fafafa', 7),
  tag(1, 0.08, '0', '#4aa040', '#c0c0c0', '#fafafa', 7),
  tag(1, -0.08, '0', '#f0a020', '#e0c080', '#fff8ea', 8),
  tag(2, 0.12, '0', '#e0304f', '#c0c0c0', '#fafafa', 7),
  tag(2, -0.13, '0', '#f0a020', '#e0c080', '#fff8ea', 8)
];

chart.setOption({ graphic: { elements } });
</script>
</body></html>
